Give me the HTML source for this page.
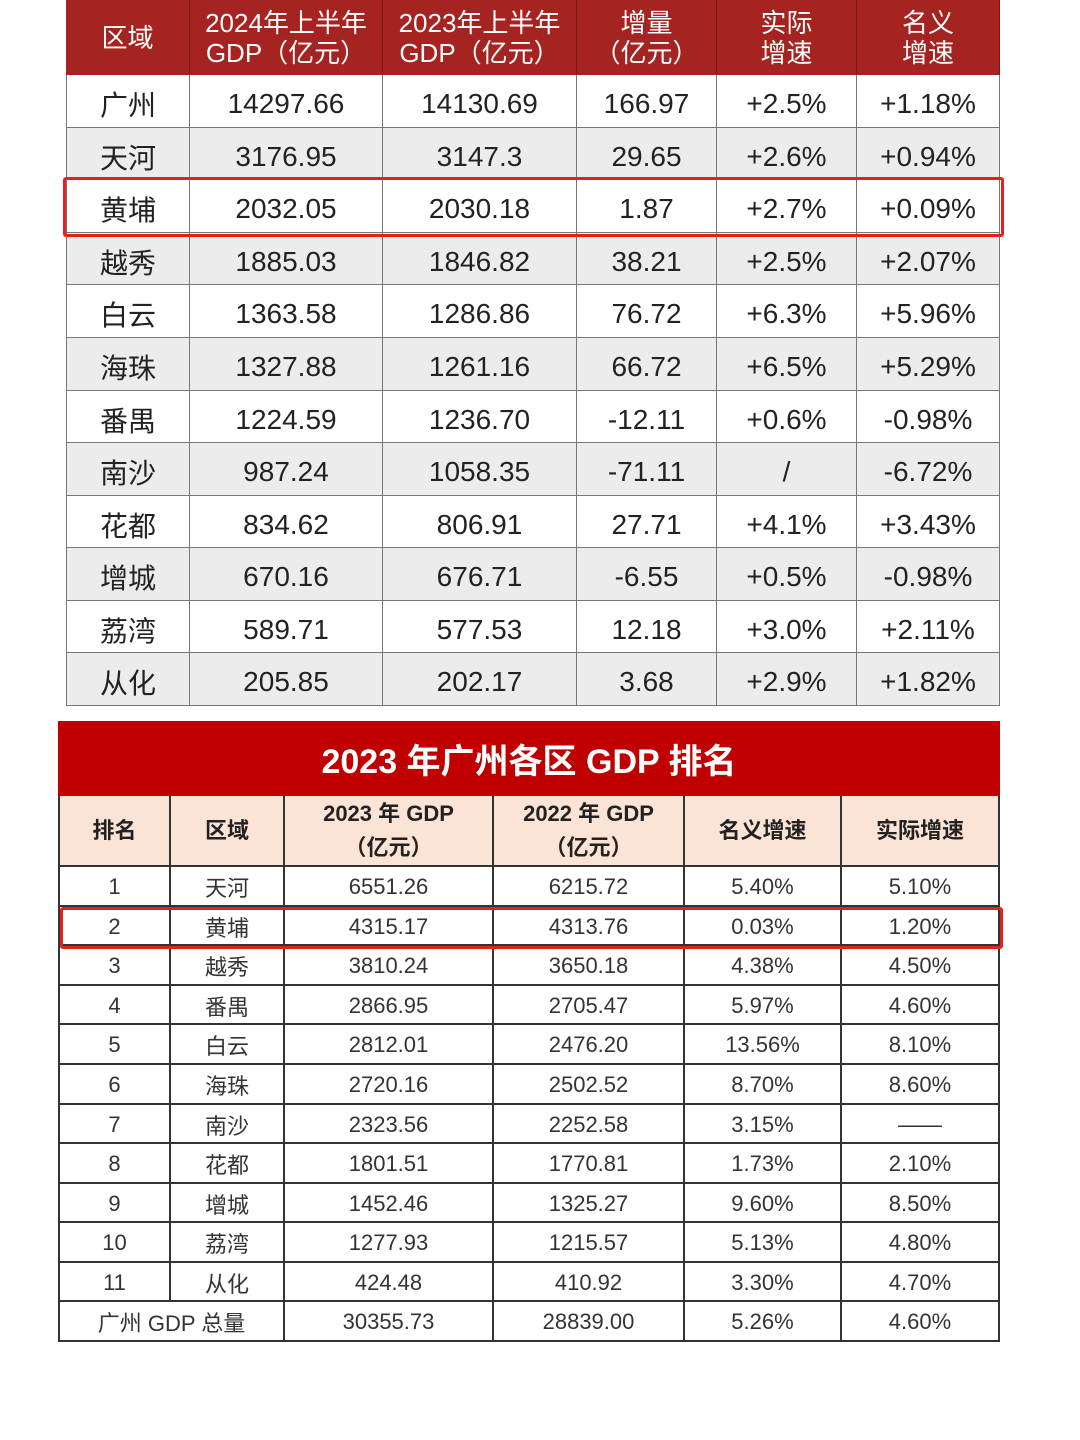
<!DOCTYPE html>
<html><head><meta charset="utf-8">
<style>
html,body{margin:0;padding:0;background:#fff;}
#root{position:relative;width:1080px;height:1440px;overflow:hidden;background:#fff;font-family:"Liberation Sans","Noto Sans CJK SC",sans-serif;}
.c{position:absolute;box-sizing:border-box;display:flex;align-items:center;justify-content:center;text-align:center;}
.t1{font-size:28px;color:#222;border-right:1.5px solid #777;border-bottom:1.5px solid #777;padding-top:6px;}
.h1{font-size:26px;color:#fff;line-height:30px;background:#a52320;border-right:1.5px solid #7a1614;}
.t2{font-size:22px;color:#333;border-right:2px solid #333;border-bottom:2px solid #333;padding-top:2px;}
.h2{font-size:22px;font-weight:bold;color:#222;line-height:34px;background:#fbe4d6;border-right:2px solid #333;border-bottom:2px solid #333;}
.hl{position:absolute;border:3px solid #e0231c;border-radius:3px;box-sizing:border-box;}
</style></head>
<body>
<div id="root">
<div class="c" style="left:58px;top:721px;width:942px;height:75px;background:#c00000;color:#fff;font-size:34px;font-weight:bold;">2023 年广州各区 GDP 排名</div>
</div>
<script>
const heads1=["区域","2024年上半年<br>GDP（亿元）","2023年上半年<br>GDP（亿元）","增量<br>（亿元）","实际<br>增速","名义<br>增速"];
const districts1=["广州","天河","黄埔","越秀","白云","海珠","番禺","南沙","花都","增城","荔湾","从化"];
const gdp2024h1=["14297.66","3176.95","2032.05","1885.03","1363.58","1327.88","1224.59","987.24","834.62","670.16","589.71","205.85"];
const gdp2023h1=["14130.69","3147.3","2030.18","1846.82","1286.86","1261.16","1236.70","1058.35","806.91","676.71","577.53","202.17"];
const incr=["166.97","29.65","1.87","38.21","76.72","66.72","-12.11","-71.11","27.71","-6.55","12.18","3.68"];
const realG=["+2.5%","+2.6%","+2.7%","+2.5%","+6.3%","+6.5%","+0.6%","/","+4.1%","+0.5%","+3.0%","+2.9%"];
const nomG=["+1.18%","+0.94%","+0.09%","+2.07%","+5.96%","+5.29%","-0.98%","-6.72%","+3.43%","-0.98%","+2.11%","+1.82%"];
const heads2=["排名","区域","2023 年 GDP<br>（亿元）","2022 年 GDP<br>（亿元）","名义增速","实际增速"];
const ranks=["1","2","3","4","5","6","7","8","9","10","11"];
const districts2=["天河","黄埔","越秀","番禺","白云","海珠","南沙","花都","增城","荔湾","从化"];
const gdp2023=["6551.26","4315.17","3810.24","2866.95","2812.01","2720.16","2323.56","1801.51","1452.46","1277.93","424.48","30355.73"];
const gdp2022=["6215.72","4313.76","3650.18","2705.47","2476.20","2502.52","2252.58","1770.81","1325.27","1215.57","410.92","28839.00"];
const nom2=["5.40%","0.03%","4.38%","5.97%","13.56%","8.70%","3.15%","1.73%","9.60%","5.13%","3.30%","5.26%"];
const real2=["5.10%","1.20%","4.50%","4.60%","8.10%","8.60%","——","2.10%","8.50%","4.80%","4.70%","4.60%"];

const root=document.getElementById('root');
function cell(cls,x,y,w,h,html,extra){
  const d=document.createElement('div');
  d.className='c '+cls;
  
  
  d.style.left=x+'px';d.style.top=y+'px';d.style.width=w+'px';d.style.height=h+'px';
  d.innerHTML=html;
  if(extra)Object.assign(d.style,extra);
  root.appendChild(d);return d;
}
const cx1=[66,190,383,577,717,857,1000];
const rowH1=(706-75)/12;
heads1.forEach((h,i)=>{const d=cell('h1',cx1[i],0,cx1[i+1]-cx1[i],75,h);});
const cols1=[districts1,gdp2024h1,gdp2023h1,incr,realG,nomG];
for(let r=0;r<12;r++){
  const y0=Math.round(75+r*rowH1), y1=Math.round(75+(r+1)*rowH1);
  for(let i=0;i<6;i++){
    const ex={background:r%2?'#ececec':'#fff'};
    if(i==0)ex.borderLeft='1.5px solid #777';
    cell('t1',cx1[i],y0,cx1[i+1]-cx1[i],y1-y0,cols1[i][r],ex);
  }
}
const cx2=[58,171,285,494,685,842,1000];
heads2.forEach((h,i)=>{const ex=i==0?{borderLeft:'2px solid #333'}:{};const d=cell('h2',cx2[i],796,cx2[i+1]-cx2[i],71,h,ex);});
const rowH2=(1342-867)/12;
for(let r=0;r<12;r++){
  const y=Math.round(867+r*rowH2), h=Math.round(867+(r+1)*rowH2)-y;
  if(r<11){
    cell('t2',cx2[0],y,cx2[1]-cx2[0],h,ranks[r],{borderLeft:'2px solid #333'});
    cell('t2',cx2[1],y,cx2[2]-cx2[1],h,districts2[r]);
  } else {
    cell('t2',cx2[0],y,cx2[2]-cx2[0],h,'广州 GDP 总量',{borderLeft:'2px solid #333'});
  }
  const cs=[gdp2023,gdp2022,nom2,real2];
  for(let i=0;i<4;i++) cell('t2',cx2[i+2],y,cx2[i+3]-cx2[i+2],h,cs[i][r]);
}
const h1=document.createElement('div');h1.className='hl';


Object.assign(h1.style,{left:'63px',top:'177px',width:'941px',height:'60px'});root.appendChild(h1);
const h2=document.createElement('div');h2.className='hl';


Object.assign(h2.style,{left:'60px',top:'907px',width:'943px',height:'42px'});root.appendChild(h2);
</script>
</body></html>
